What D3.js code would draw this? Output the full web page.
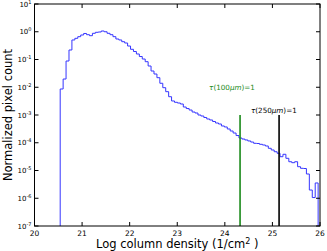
<!DOCTYPE html>
<html>
<head>
<meta charset="utf-8">
<script src="https://cdn.jsdelivr.net/npm/d3@7"></script>
<style>
  body { margin: 0; background: #fff; }
  text { font-family: "DejaVu Sans", sans-serif; }
</style>
</head>
<body>
<div id="chart"></div>
<script>
// histogram: first bin edge, bin width, normalised counts per bin
const BIN_START = 20.54;
const BIN_WIDTH = 0.0616;
const counts = [
  8.65e-3, 1.98e-2, 8.83e-2, 0.22, 0.505, 0.58, 0.664, 0.764, 0.865, 0.783,
  0.721, 0.879, 0.955, 0.98, 1.064, 1.0, 0.879, 0.783, 0.664, 0.548,
  0.505, 0.438, 0.393, 0.306, 0.233, 0.194, 0.158, 0.128, 0.104, 0.0834,
  0.0583, 0.0385, 0.030, 0.0221, 0.0139, 0.00964, 0.00692, 0.00456, 0.0032, 0.00287,
  0.0027, 0.00249, 0.00194, 0.00171, 0.00151, 0.00128, 0.00118, 0.001, 0.00092, 0.000813,
  0.000718, 0.000661, 0.000583, 0.000515, 0.000474, 0.000402, 0.00037, 0.000313, 0.000265, 0.000224,
  0.000182, 0.000148, 0.000136, 0.000126, 0.000116, 0.000106, 9.55e-5, 9.4e-5, 8.79e-5, 8.3e-5,
  7.64e-5, 6.31e-5, 5.48e-5, 4.75e-5, 4.17e-5, 3.14e-5, 3.84e-5, 2.75e-5, 2.07e-5, 1.91e-5,
  2.07e-5, 1.37e-5, 1.2e-5, 1.18e-5, 7.48e-6, 1.98e-6, 1.06e-6, 3.55e-6
];

// optical depth markers
const markerX = [24.32, 25.14];
const markerTop = [1e-3, 1e-3];
const markerColor = ["#1a8a1a", "#000000"];
const markerLabel = ["100", "250"];
const markerLabelPos = [[24.15, 8e-3], [25.03, 1.2e-3]];

const xTicks = [20, 21, 22, 23, 24, 25, 26];
const yExps = [1, 0, -1, -2, -3, -4, -5, -6, -7];

const WIDTH = 327;
const HEIGHT = 251;
const LEFT = 34.5, RIGHT = 320, TOP = 4, BOTTOM = 226;

const X_SCALE = d3.scaleLinear().domain([20, 26]).range([LEFT, RIGHT]);
const Y_SCALE = d3.scaleLog().domain([1e-7, 10]).range([BOTTOM, TOP]).clamp(true);

let svg = d3.select('#chart')
            .append('svg')
            .attr('width', WIDTH)
            .attr('height', HEIGHT);

// step outline, starting and ending at the floor
let pts = [[BIN_START, 1e-7]];
counts.forEach((c, i) => pts.push([BIN_START + i * BIN_WIDTH, c]));
pts.push([BIN_START + counts.length * BIN_WIDTH, counts[counts.length - 1]]);
pts.push([BIN_START + counts.length * BIN_WIDTH, 1e-7]);

const line = d3.line()
               .x(d => X_SCALE(d[0]))
               .y(d => Y_SCALE(d[1]))
               .curve(d3.curveStepAfter);

svg.append('path')
   .attr('d', line(pts))
   .attr('fill', 'none')
   .attr('stroke', '#3535ff')
   .attr('stroke-width', 1);

markerX.forEach((mx, i) => {
  svg.append('line')
     .attr('x1', X_SCALE(mx)).attr('x2', X_SCALE(mx))
     .attr('y1', Y_SCALE(1e-7)).attr('y2', Y_SCALE(markerTop[i]))
     .attr('stroke', markerColor[i])
     .attr('stroke-width', 1.6);

  let t = svg.append('text')
     .attr('x', X_SCALE(markerLabelPos[i][0]))
     .attr('y', Y_SCALE(markerLabelPos[i][1]))
     .attr('text-anchor', 'middle')
     .attr('fill', markerColor[i])
     .attr('font-family', '"DejaVu Serif", serif')
     .attr('font-size', 7.2);
  t.append('tspan').attr('font-style', 'italic').text('τ');
  t.append('tspan').text('(' + markerLabel[i]);
  t.append('tspan').attr('font-style', 'italic').text('μm');
  t.append('tspan').text(')=1');
});

// frame
svg.append('rect')
   .attr('x', LEFT).attr('y', TOP)
   .attr('width', RIGHT - LEFT).attr('height', BOTTOM - TOP)
   .attr('fill', 'none')
   .attr('stroke', '#000')
   .attr('stroke-width', 1);

// inward ticks on all four sides
const TICK = 4;
xTicks.forEach(v => {
  let x = X_SCALE(v);
  svg.append('line').attr('x1', x).attr('x2', x).attr('y1', BOTTOM).attr('y2', BOTTOM - TICK).attr('stroke', '#000');
  svg.append('line').attr('x1', x).attr('x2', x).attr('y1', TOP).attr('y2', TOP + TICK).attr('stroke', '#000');
  svg.append('text')
     .attr('x', x).attr('y', BOTTOM + 10)
     .attr('text-anchor', 'middle')
     .attr('font-size', 7.5)
     .text(v);
});

yExps.forEach(e => {
  let y = Y_SCALE(Math.pow(10, e));
  svg.append('line').attr('x1', LEFT).attr('x2', LEFT + TICK).attr('y1', y).attr('y2', y).attr('stroke', '#000');
  svg.append('line').attr('x1', RIGHT).attr('x2', RIGHT - TICK).attr('y1', y).attr('y2', y).attr('stroke', '#000');
  let t = svg.append('text')
     .attr('x', LEFT - 3).attr('y', y + 2.5)
     .attr('text-anchor', 'end')
     .attr('font-size', 7);
  t.append('tspan').text('10');
  t.append('tspan').attr('dy', -3).attr('font-size', 5).text(e);
});

svg.append('text')
   .attr('x', (LEFT + RIGHT) / 2).attr('y', 248)
   .attr('text-anchor', 'middle')
   .attr('font-size', 11.5)
   .call(t => {
     t.append('tspan').text('Log column density (1/cm');
     t.append('tspan').attr('dy', -4).attr('font-size', 8).text('2');
     t.append('tspan').attr('dy', 4).text(' )');
   });

svg.append('text')
   .attr('transform', 'translate(12,' + ((TOP + BOTTOM) / 2) + ') rotate(-90)')
   .attr('text-anchor', 'middle')
   .attr('font-size', 11.5)
   .text('Normalized pixel count');
</script>
</body>
</html>
